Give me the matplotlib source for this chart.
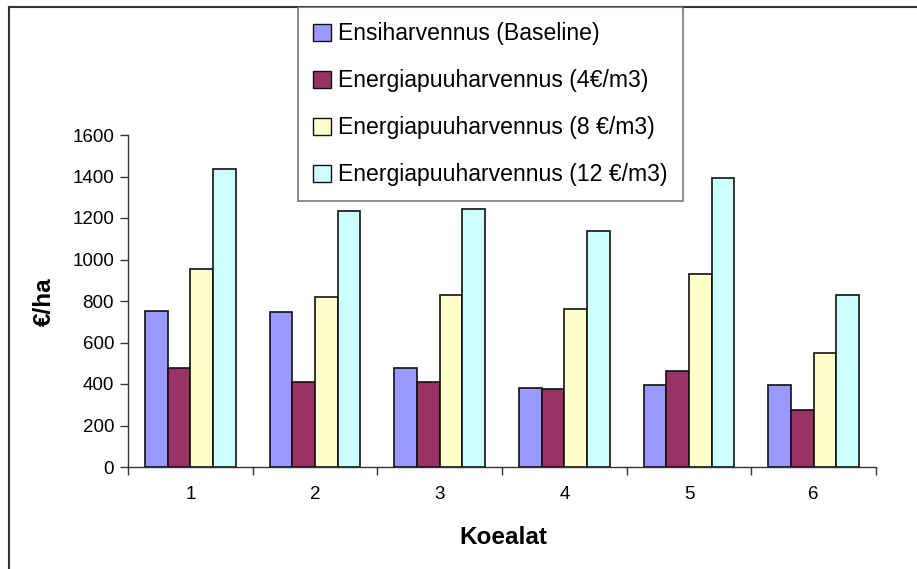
import matplotlib
matplotlib.use("Agg")
import matplotlib.pyplot as plt
import numpy as np
from matplotlib.lines import Line2D

plt.rcParams['font.family'] = ['Liberation Sans', 'DejaVu Sans']

categories = ["1", "2", "3", "4", "5", "6"]
series_names = [
    "Ensiharvennus (Baseline)",
    "Energiapuuharvennus (4€/m3)",
    "Energiapuuharvennus (8 €/m3)",
    "Energiapuuharvennus (12 €/m3)",
]
baseline = [753, 745, 477, 382, 397, 397]
energy4 = [477, 411, 411, 376, 464, 273]
energy8 = [956, 819, 827, 761, 929, 551]
energy12 = [1438, 1235, 1242, 1139, 1393, 827]
colors = ["#9999FF", "#993366", "#FFFFCC", "#CCFFFF"]

W, H = 917, 569
fig = plt.figure(figsize=(W / 100, H / 100), dpi=100)
ax = fig.add_axes([128 / W, 1 - 467 / H, (876 - 128) / W, (467 - 135) / H])

x = np.arange(1, len(categories) + 1)
bw = 0.182
all_series = [baseline, energy4, energy8, energy12]
handles = []
for i, (vals, c, name) in enumerate(zip(all_series, colors, series_names)):
    b = ax.bar(x + (i - 1.5) * bw, vals, width=bw, color=c, edgecolor="#111111",
               linewidth=1.2, label=name, zorder=3)
    handles.append(b)

ax.set_xlim(0.5, len(categories) + 0.5)
ax.set_ylim(0, 1600)
ax.set_yticks(np.arange(0, 1601, 200))
ax.set_xticks(x)
ax.set_xticklabels(categories)
ax.set_xticks(np.arange(0.5, len(categories) + 1, 1), minor=True)
ax.tick_params(axis="x", which="major", length=0, pad=14, labelsize=13.5)
ax.tick_params(axis="x", which="minor", length=6, width=1, color="#333333", direction="out")
ax.tick_params(axis="y", length=6, width=1, color="#333333", direction="out", pad=4, labelsize=13.5)

for s in ["top", "right"]:
    ax.spines[s].set_visible(False)
for s in ["left", "bottom"]:
    ax.spines[s].set_color("#333333")
    ax.spines[s].set_linewidth(1.0)

fig.text(44 / W, 1 - 302 / H, "€/ha", rotation=90, ha="center", va="center",
         fontsize=17.5, fontweight="bold")
fig.text(503 / W, 1 - 537 / H, "Koealat", ha="center", va="center",
         fontsize=17.5, fontweight="bold")

# outer chart frame
fig.add_artist(Line2D([9 / W, 9 / W], [0, 1 - 7 / H], transform=fig.transFigure,
                      color="#333333", linewidth=1.5))
fig.add_artist(Line2D([9 / W, 1], [1 - 7 / H, 1 - 7 / H], transform=fig.transFigure,
                      color="#333333", linewidth=1.5))

leg = fig.legend(handles=handles, labels=series_names, loc="upper left",
                 bbox_to_anchor=(298 / W, 1 - 7 / H), frameon=True, fancybox=False,
                 fontsize=16.6, handlelength=0.75, handleheight=0.75, handletextpad=0.33,
                 labelspacing=1.04, borderpad=0.66, borderaxespad=0)
leg.get_frame().set_edgecolor("#555555")
leg.get_frame().set_linewidth(1.2)
for h in leg.legend_handles:
    h.set_linewidth(1.0)

fig.savefig("out.png", dpi=100)
